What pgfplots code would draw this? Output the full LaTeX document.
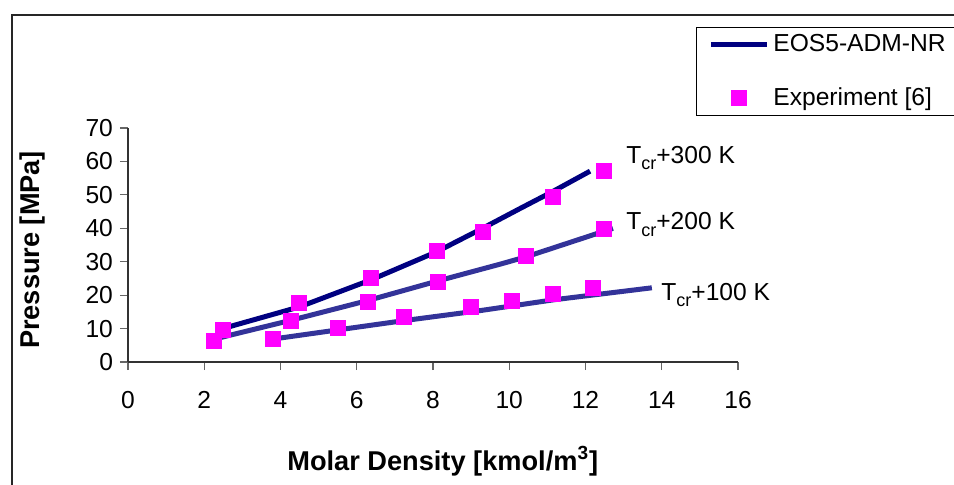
\documentclass[border=0pt]{standalone}
\usepackage{fontspec}
\setmainfont{Liberation Sans}
\usepackage{pgfplots}
\pgfplotsset{compat=1.18}

\definecolor{eosnavy}{RGB}{0,0,128}
\definecolor{eosslate}{RGB}{51,51,153}
\definecolor{expmag}{RGB}{255,0,255}

\newcommand{\chartfont}{\fontsize{12.3}{14}\selectfont}
\newcommand{\titlefont}{\fontsize{13.6}{16}\selectfont}
\newcommand{\sub}[1]{\raisebox{-0.25em}{\fontsize{9}{10}\selectfont #1}}

\pgfplotsset{
    lineleg/.style={legend image code/.code={\draw[##1] (0pt,0pt) -- (28pt,0pt);}},
    markleg/.style={legend image code/.code={\draw[mark repeat=2,mark phase=2,##1] plot coordinates {(0pt,0pt) (14pt,0pt) (28pt,0pt)};}},
}

\begin{document}
\begin{tikzpicture}
% page = 954 x 484 px, 1 px = 0.5 pt
\path[use as bounding box] (0,0) rectangle (477pt,-242pt);
\clip (0,0) rectangle (477pt,-242pt);
% chart area border (right and bottom edges fall outside the picture)
\draw[line width=0.75pt, black!85] (6pt,-250pt) -- (6pt,-7.5pt) -- (490pt,-7.5pt);

\begin{axis}[%
    ,at={(64pt,-181pt)},anchor=south west
    ,scale only axis,width=305pt,height=117pt
    ,xmin=0,xmax=16,ymin=0,ymax=70
    ,xtick={0,2,...,16},ytick={0,10,...,70}
    ,axis lines=left,axis line style={-,black!80,line width=0.6pt}
    ,tick align=outside,major tick length=4pt
    ,tick style={black!60,line width=0.6pt}
    ,minor tick num=0
    ,/pgf/number format/assume math mode=true
    ,tick label style={font=\chartfont}
    ,xticklabel style={yshift=-7pt}
    ,xlabel={Molar Density [kmol/m\textsuperscript{3}]}
    ,ylabel={Pressure [MPa]}
    ,every axis x label/.style={at={(axis description cs:0.516,-0.423)},anchor=center,font=\bfseries\titlefont}
    ,every axis y label/.style={at={(axis description cs:-0.156,0.479)},rotate=90,anchor=center,font=\bfseries\titlefont}
    ,legend style={at={(axis description cs:0.931,1.432)},anchor=north west,
        draw=black,line width=0.5pt,fill=white,font=\chartfont,
        inner xsep=6pt,inner ysep=1.5pt,row sep=12.5pt}
    ,legend cell align=left
    ,clip=false
    ]
% EOS5-ADM-NR, T_cr + 300 K
\addplot[color=eosnavy,line width=2.5pt,line join=round,lineleg]
    coordinates {(2.42,9.8) (4.50,16.5) (6.40,24.7) (8.10,33.0) (9.30,40.0) (10.28,45.9) (11.14,51.0) (12.12,57.1)};
\addlegendentry{EOS5-ADM-NR}
% T_cr + 200 K
\addplot[color=eosslate,line width=2.5pt,line join=round,forget plot]
    coordinates {(2.24,6.8) (4.28,12.5) (6.29,18.4) (8.14,24.3) (9.77,29.3) (10.45,31.5) (12.72,40.0)};
% T_cr + 100 K
\addplot[color=eosslate,line width=2.5pt,line join=round,forget plot]
    coordinates {(3.82,6.9) (5.50,9.6) (7.25,12.4) (9.25,15.4) (11.16,18.6) (13.74,22.2)};

% Experiment [6]
\addplot[only marks,mark=square*,mark size=3.75pt,color=expmag,markleg]
    coordinates {(2.48,9.6) (4.49,17.6) (6.37,25.3) (8.11,33.3) (9.30,38.8) (11.14,49.3) (12.49,57.1)};
\addlegendentry{Experiment [6]}
\addplot[only marks,mark=square*,mark size=3.75pt,color=expmag,forget plot]
    coordinates {(2.24,6.3) (4.28,12.3) (6.28,18.0) (8.13,24.1) (10.44,31.7) (12.49,39.7)};
\addplot[only marks,mark=square*,mark size=3.75pt,color=expmag,forget plot]
    coordinates {(3.80,7.0) (5.50,10.3) (7.24,13.4) (9.00,16.5) (10.07,18.3) (11.14,20.5) (12.19,22.2)};

\node[anchor=base west,inner sep=0pt,font=\chartfont] at (axis cs:13.06,59.5) {T\sub{cr}+300 K};
\node[anchor=base west,inner sep=0pt,font=\chartfont] at (axis cs:13.06,39.5) {T\sub{cr}+200 K};
\node[anchor=base west,inner sep=0pt,font=\chartfont] at (axis cs:13.98,18.5) {T\sub{cr}+100 K};
\end{axis}
\end{tikzpicture}
\end{document}
